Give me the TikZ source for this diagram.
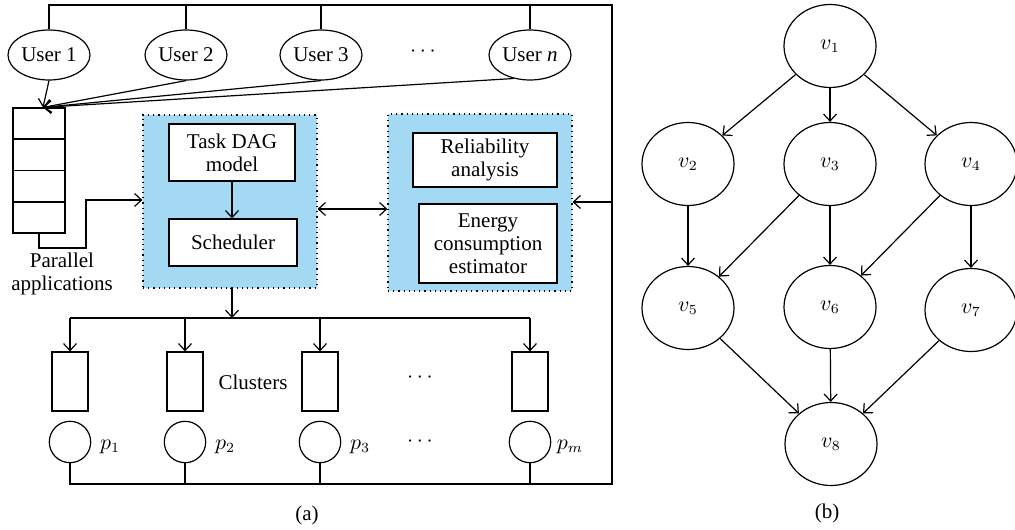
\documentclass[tikz,border=0pt]{standalone}
\usepackage{fontspec}
\setmainfont{Liberation Serif}
\usetikzlibrary{arrows.meta,shapes.geometric,calc}
\definecolor{panelblue}{RGB}{163,217,243}
\begin{document}
\begin{tikzpicture}[x=0.5pt,y=-0.5pt,line width=0.6pt,
  >={Straight Barb[length=3.5pt,width=6.5pt]},
  font=\fontsize{10.5}{11.5}\selectfont,
  user/.style={ellipse,draw,minimum width=41pt,minimum height=25pt,inner sep=0pt},
  blk/.style={rectangle,draw,fill=white,align=center,inner sep=0pt},
  panel/.style={rectangle,draw,dotted,fill=panelblue,inner sep=0pt},
  cl/.style={rectangle,draw,minimum width=18pt,minimum height=29.5pt,inner sep=0pt},
  proc/.style={circle,draw,minimum size=20.7pt,inner sep=0pt},
  vert/.style={ellipse,draw,minimum width=46pt,minimum height=41.5pt,inner sep=0pt}]
\useasboundingbox (0,0) rectangle (1015,529);

% ---------- (a) system model ----------
\node[user] (u1) at (49,55) {User 1};
\node[user] (u2) at (186,55) {User 2};
\node[user] (u3) at (321,55) {User 3};
\node (udots) at (423,52) {$\cdots$};
\node[user] (un) at (530,55) {User \textit{n}};

% task queue
\node[rectangle,draw,minimum width=26pt,minimum height=62.5pt,inner sep=0pt] (q) at (39,170.5) {};
\foreach \f in {0.25,0.5,0.75}
  \draw ($(q.north west)!\f!(q.south west)$) -- ($(q.north east)!\f!(q.south east)$);
\coordinate (qin) at ($(q.north)+(4,0)$);

\draw[->] (u1.south) -- (qin);
\draw[->] (u2.south) -- (qin);
\draw[->] (u3.south) -- (qin);
\draw[->] (un.235) -- (qin);

% scheduler panel
\node[panel,minimum width=87pt,minimum height=86.5pt] (pL) at (230,201.5) {};
\node[blk,minimum width=63pt,minimum height=28.5pt] (tdag) at (232,152.5) {Task DAG\\model};
\node[blk,minimum width=64pt,minimum height=23.5pt] (sch) at (233,242.5) {Scheduler};
\draw[->] (tdag.south) -- (tdag.south |- sch.north);

% analysis panel
\node[panel,minimum width=92pt,minimum height=88.5pt] (pR) at (480,202.5) {};
\node[blk,minimum width=72pt,minimum height=27pt] (rel) at (485,160) {Reliability\\analysis};
\node[blk,minimum width=69pt,minimum height=39.5pt] (ene) at (488,243.5) {Energy\\consumption\\estimator};

\coordinate (bi) at (350,209);
\draw[<->] (pL.east |- bi) -- (pR.west |- bi);

% parallel applications feed
\coordinate (pa) at (86,248);
\coordinate (pin) at (120,200);
\draw[->] (q.south) |- (pa) |- (pL.west |- pin);
\node[align=center] (papp) at (62,274) {Parallel\\applications};

% clusters and processors
\foreach \n/\x/\lab in {c1/70/p_1,c2/185/p_2,c3/320/p_3,cm/530/p_m}{
  \node[cl] (\n) at (\x,381.5) {};
  \node[proc] (p\n) at (\x,442) {};
  \node (l\n) at (\x+40,447) {$\lab$};
}
\node (clus) at (253,382) {Clusters};
\node (cdots1) at (420,378) {$\cdots$};
\node (cdots2) at (420,442) {$\cdots$};

\coordinate (bus) at (232,318);
\draw[->] (pL.south) -- (pL.south -| bus) -- (bus);
\draw (c1.north |- bus) -- (cm.north |- bus);
\foreach \n in {c1,c2,c3,cm}
  \draw[->] (\n.north |- bus) -- (\n.north);

% outer frame
\coordinate (ftr) at (612,5);
\coordinate (fbr) at (612,484);
\draw (u1.north) |- (ftr) -- (fbr) -| (pc1.south);
\foreach \n in {u2,u3,un}
  \draw (\n.north) -- (\n.north |- ftr);
\foreach \n in {pc2,pc3,pcm}
  \draw (\n.south) -- (\n.south |- fbr);
\coordinate (fin) at (612,202);
\draw[->] (fin) -- (pR.east |- fin);

\node (capa) at (307,515) {(a)};

% ---------- (b) task graph ----------
\node[vert] (v1) at (830,46) {$v_1$};
\node[vert] (v2) at (688,164) {$v_2$};
\node[vert] (v3) at (830,164) {$v_3$};
\node[vert] (v4) at (971,164) {$v_4$};
\node[vert] (v5) at (688,308) {$v_5$};
\node[vert] (v6) at (830,307) {$v_6$};
\node[vert] (v7) at (971,310) {$v_7$};
\node[vert] (v8) at (831,444) {$v_8$};

\foreach \a/\b in {v1/v2,v1/v3,v1/v4,v2/v5,v3/v5,v3/v6,v4/v6,v4/v7,v5/v8,v6/v8,v7/v8}
  \draw[->] (\a) -- (\b);

\node (capb) at (827,513) {(b)};
\end{tikzpicture}
\end{document}
